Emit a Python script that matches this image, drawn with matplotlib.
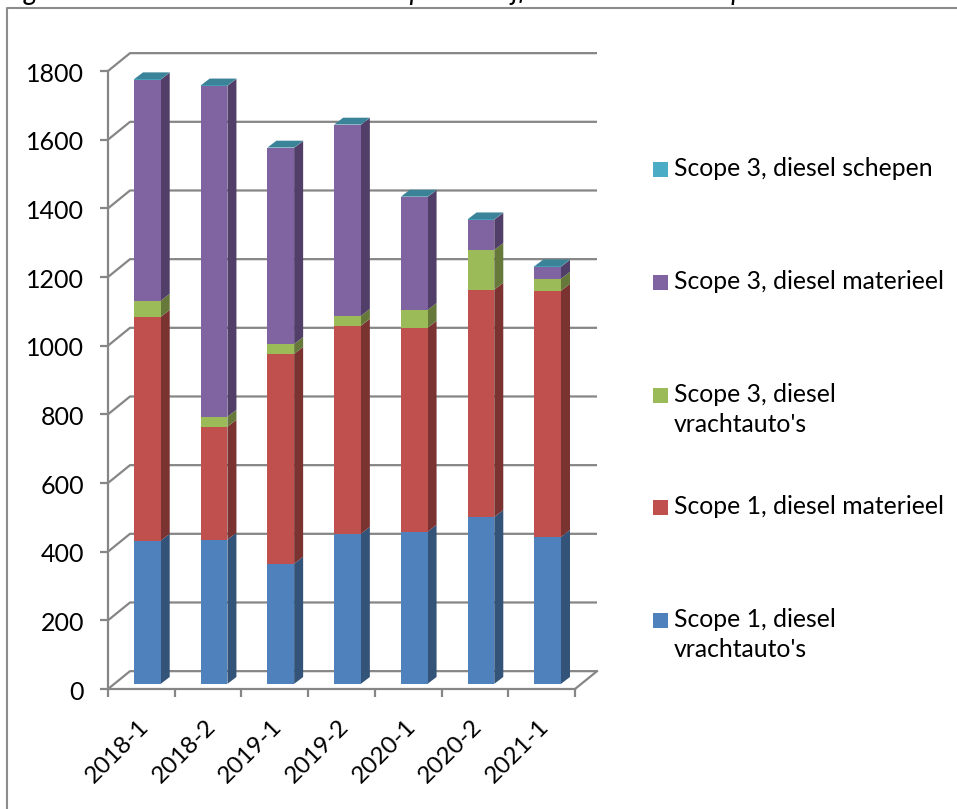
import matplotlib
matplotlib.use("Agg")
import numpy as np
import matplotlib.pyplot as plt
from matplotlib.patches import Polygon, Rectangle
from matplotlib.transforms import ScaledTranslation

plt.rcParams["font.family"] = ["Lato", "DejaVu Sans"]

periods = ["2018-1", "2018-2", "2019-1", "2019-2", "2020-1", "2020-2", "2021-1"]
vracht_s1 = [417, 420, 350, 437, 443, 486, 428]
materieel_s1 = [652, 329, 611, 606, 594, 662, 717]
vracht_s3 = [47, 29, 29, 29, 52, 116, 35]
materieel_s3 = [644, 964, 571, 556, 329, 88, 35]
schepen_s3 = [1, 1, 1, 1, 1, 1, 1]

series = [vracht_s1, materieel_s1, vracht_s3, materieel_s3, schepen_s3]
front_cols = ["#4F81BD", "#C0504D", "#9BBB59", "#8064A2", "#4BACC6"]
side_cols = ["#335378", "#7B3331", "#66793A", "#523F69", "#2F7186"]
legend_labels = ["Scope 3, diesel schepen", "Scope 3, diesel materieel",
                 "Scope 3, diesel\nvrachtauto's", "Scope 1, diesel materieel",
                 "Scope 1, diesel\nvrachtauto's"]
legend_order = [4, 3, 2, 1, 0]
legend_y = [169, 282, 395, 507, 620]
yticks = np.arange(0, 1801, 200)

W, H = 957, 809
GRID = "#868686"

fig = plt.figure(figsize=(W / 100, H / 100), dpi=100)

# outer frame and the caption that is cut off at the top, in pixels
bg = fig.add_axes([0, 0, 1, 1])
bg.set_xlim(0, W)
bg.set_ylim(H, 0)
bg.axis("off")
bg.plot([7, 7, W], [H, 8, 8], color="#8c8c8c", lw=1.5)
bg.text(3, 0, "Figuur 1   Diesel en AdBlue in liters per bedrijfsonderdeel en scope",
        fontsize=20, style="italic", color="black", va="baseline")

left, right, bottom, top = 108, 575, 689, 71
ax = fig.add_axes([left / W, 1 - bottom / H, (right - left) / W, (bottom - top) / H])
ax.set_xlim(0, len(periods))
ax.set_ylim(0, 1800)
ax.patch.set_alpha(0)
for s in ["top", "right"]:
    ax.spines[s].set_visible(False)
for s in ["left", "bottom"]:
    ax.spines[s].set_color(GRID)
    ax.spines[s].set_linewidth(1.6)

# depth of the wall and of the bars, in data units
wall_dx, wall_dy = 0.33, 52
bar_dx, bar_dy = 0.135, 20
off_x, base = 0.59, 15
bar_w = 0.4

# back wall, floor and side wall lines
for v in yticks:
    ax.plot([0, wall_dx, len(periods) + wall_dx], [v, v + wall_dy, v + wall_dy],
            color=GRID, lw=1.6, clip_on=False, zorder=1, solid_capstyle="butt")
ax.plot([len(periods), len(periods) + wall_dx], [0, wall_dy], color=GRID, lw=1.6,
        clip_on=False, zorder=1)

for i in range(len(periods)):
    x0 = i + off_x - bar_w / 2
    x1 = x0 + bar_w
    cur = base
    for k, vals in enumerate(series):
        y0, y1 = cur, cur + vals[i]
        ax.add_patch(Polygon([(x1, y0), (x1 + bar_dx, y0 + bar_dy), (x1 + bar_dx, y1 + bar_dy), (x1, y1)],
                             fc=side_cols[k], ec="none", clip_on=False, zorder=3))
        ax.add_patch(Rectangle((x0, y0), bar_w, y1 - y0, fc=front_cols[k], ec="none",
                               clip_on=False, zorder=4))
        cur = y1
    ax.add_patch(Polygon([(x0, cur), (x0 + bar_dx, cur + bar_dy), (x1 + bar_dx, cur + bar_dy), (x1, cur)],
                         fc="#3A8398", ec="none", clip_on=False, zorder=5))

ax.set_yticks(yticks)
ax.set_xticks(np.arange(len(periods) + 1))
ax.set_xticklabels([])
ax.tick_params(axis="both", length=5.8, width=1.6, color=GRID)
ax.tick_params(axis="y", labelsize=18, pad=11.5)
shift_down = ScaledTranslation(0, -1 / 100, fig.dpi_scale_trans)
for lab in ax.get_yticklabels():
    lab.set_transform(lab.get_transform() + shift_down)
for i, p in enumerate(periods):
    ax.annotate(p, (i + 0.45, 0), xytext=(0, -19), textcoords="offset points", rotation=45,
                ha="right", va="top", rotation_mode="anchor", fontsize=17.5)

# legend as separate marks, keeps the wide spacing of the original
for k, ly, lab in zip(legend_order, legend_y, legend_labels):
    bg.add_patch(Rectangle((653, ly - 7), 15, 15, fc=front_cols[k], ec="none"))
    bg.text(674, ly - 12, lab, fontsize=17.8, va="top", ha="left", linespacing=1.35)

fig.savefig("out.png", dpi=100)
